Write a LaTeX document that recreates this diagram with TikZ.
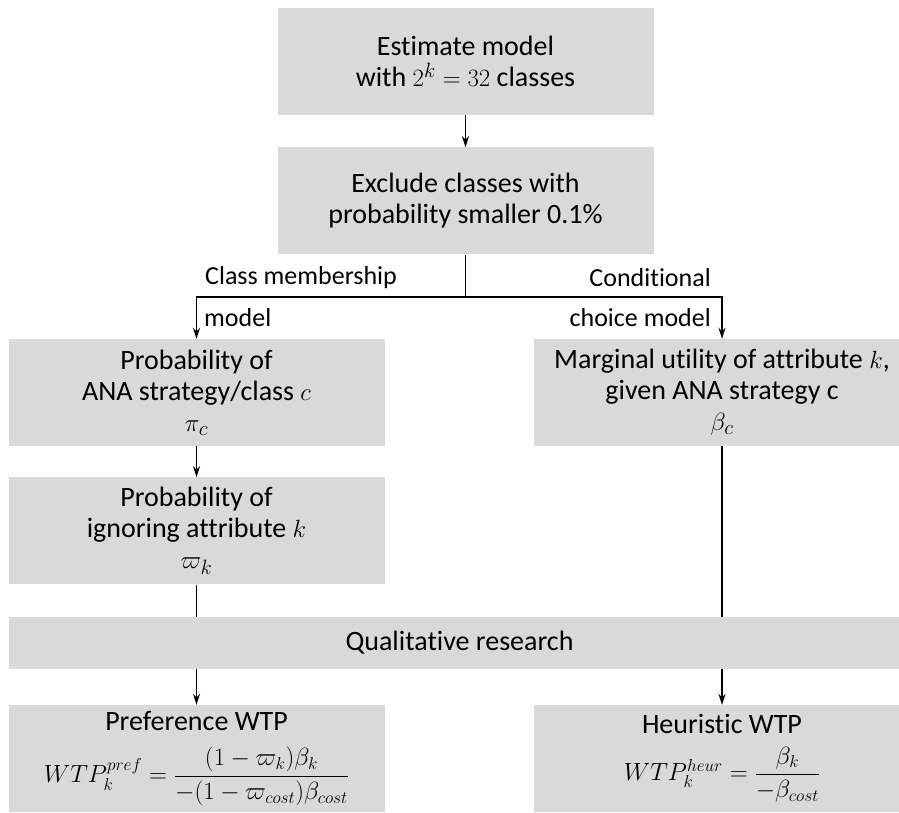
\documentclass[tikz,border=0pt]{standalone}
\usepackage{amsmath}
\usepackage{fontspec}
\setmainfont{Carlito}[Ligatures={NoCommon,NoContextual}, Contextuals={NoAlternate}]
\usepackage{tikz}
\usetikzlibrary{arrows.meta, positioning}
\definecolor{boxgray}{HTML}{D9D9D9}
\tikzstyle{stage} = [rectangle, minimum width=376pt, minimum height=107pt, inner sep=0pt, text centered, align=center, fill=boxgray, font=\fontsize{28}{31}\selectfont]
\tikzstyle{band} = [stage, minimum width=901pt, minimum height=52pt]
\tikzstyle{lbl} = [inner sep=0pt, font=\fontsize{26}{30}\selectfont]
\tikzstyle{line} = [line width=1.8pt]
\tikzstyle{arrow} = [line, -{Stealth[length=11pt, width=7pt]}]
\newcommand{\wtpmath}[1]{{\fontsize{24}{28}\selectfont$#1$}}

\begin{document}
\begin{tikzpicture}[x=1pt, y=-1pt]
\useasboundingbox (0,0) rectangle (899,812);

\node (estimate) [stage] at (465.5,61.5) {Estimate model\\with $2^k=32$ classes};
\node (exclude) [stage, below=32pt of estimate] {Exclude classes with\\probability smaller 0.1\%};
\node (classprob) [stage] at (196.5,392.5) {Probability of\\ANA strategy/class $c$\\$\pi_c$};
\node (marginal) [stage] at (722,392.5) {Marginal utility of attribute $k$,\\given ANA strategy c\\$\beta_c$};
\node (ignore) [stage, below=31pt of classprob] {Probability of\\ignoring attribute $k$\\$\varpi_k$};
\node (qual) [band] at (459.5,643) {Qualitative research};
\node (prefwtp) [stage] at (196.5,758.5) {Preference WTP\\[16pt]\wtpmath{WTP_k^{pref}=\dfrac{(1-\varpi_k)\beta_k}{-(1-\varpi_{cost})\beta_{cost}}}};
\node (heurwtp) [stage] at (722,758.5) {Heuristic WTP\\[12pt]\wtpmath{WTP_k^{heur}=\dfrac{\beta_k}{-\beta_{cost}}}};

\coordinate (split) at (465.5,297);

\node (cm1) [lbl, anchor=west] at (205,278) {Class membership};
\node (cm2) [lbl, anchor=west] at (204,318) {model};
\node (cc1) [lbl, anchor=east] at (711,278) {Conditional};
\node (cc2) [lbl, anchor=east] at (711,318) {choice model};

\draw [arrow] (estimate) -- (exclude);
\draw [line] (exclude.south) -- (split);
\draw [arrow] (split) -| (classprob.north);
\draw [arrow] (split) -| (marginal.north);
\draw [arrow] (classprob) -- (ignore);
\draw [line] (ignore.south) -- (ignore.south |- qual.north);
\draw [line] (marginal.south) -- (marginal.south |- qual.north);
\draw [arrow] (qual.south -| prefwtp.north) -- (prefwtp.north);
\draw [arrow] (qual.south -| heurwtp.north) -- (heurwtp.north);

\end{tikzpicture}
\end{document}
